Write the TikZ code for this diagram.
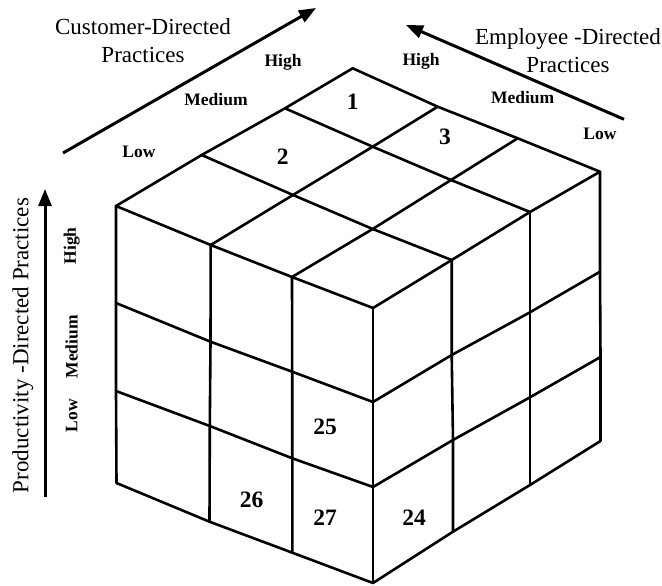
\documentclass[tikz,border=0pt]{standalone}
\usepackage{fontspec}
\setmainfont{Liberation Serif}
\usetikzlibrary{arrows.meta}
\begin{document}
\begin{tikzpicture}[x=1pt,y=-1pt,
  grid/.style={line width=2.6pt, line join=round, line cap=round},
  axis/.style={line width=3pt, -{Triangle[length=17pt,width=13pt]}},
  title/.style={font=\fontsize{23}{28}\selectfont, align=center, inner sep=0pt},
  level/.style={font=\bfseries\fontsize{17.5}{19}\selectfont, inner sep=0pt},
  cell/.style={font=\bfseries\fontsize{23.5}{25}\selectfont, inner sep=0pt}]
\useasboundingbox (0,0) rectangle (662,586);

% top face: t<i><j>, i runs towards the left corner, j towards the right corner
\coordinate (t00) at (352.7,68.3);
\coordinate (t01) at (437.7,106.7);
\coordinate (t02) at (517.7,138.3);
\coordinate (t03) at (600,171.7);
\coordinate (t10) at (285,108.3);
\coordinate (t11) at (372.7,146.7);
\coordinate (t12) at (451,180);
\coordinate (t13) at (530,212);
\coordinate (t20) at (201.7,155);
\coordinate (t21) at (293,195);
\coordinate (t22) at (372.7,229);
\coordinate (t23) at (451.7,260);
\coordinate (t30) at (116,206);
\coordinate (t31) at (210.7,245);
\coordinate (t32) at (292,277);
\coordinate (t33) at (373,308);

% left face: l<column><row>
\coordinate (l00) at (116,206);   \coordinate (l01) at (116,303);
\coordinate (l02) at (116,391);   \coordinate (l03) at (116.5,483);
\coordinate (l10) at (210.7,245); \coordinate (l11) at (210.5,341.7);
\coordinate (l12) at (209.8,426); \coordinate (l13) at (209.5,521.7);
\coordinate (l20) at (292,277);   \coordinate (l21) at (292.2,371.7);
\coordinate (l22) at (292.3,458.3); \coordinate (l23) at (292.3,552.7);
\coordinate (l30) at (373,308);   \coordinate (l31) at (373,402);
\coordinate (l32) at (373,487);   \coordinate (l33) at (373,583);

% right face: r<column><row>, column 0 is the front edge
\coordinate (r00) at (373,308);   \coordinate (r01) at (373,402);
\coordinate (r02) at (373,487);   \coordinate (r03) at (373,583);
\coordinate (r10) at (451.7,260); \coordinate (r11) at (451.7,355);
\coordinate (r12) at (453,440);   \coordinate (r13) at (453,531.7);
\coordinate (r20) at (530,212);   \coordinate (r21) at (530,312.3);
\coordinate (r22) at (530,397.3); \coordinate (r23) at (530,485);
\coordinate (r30) at (600,171.7); \coordinate (r31) at (600,271.7);
\coordinate (r32) at (600.5,357); \coordinate (r33) at (600.5,441);

% top face grid
\foreach \i in {0,...,3}{
  \draw[grid] (t\i0) -- (t\i1) -- (t\i2) -- (t\i3);
  \draw[grid] (t0\i) -- (t1\i) -- (t2\i) -- (t3\i);
}
% left face grid
\foreach \a in {0,...,3}
  \draw[grid] (l\a0) -- (l\a1) -- (l\a2) -- (l\a3);
\foreach \k in {1,...,3}
  \draw[grid] (l0\k) -- (l1\k) -- (l2\k) -- (l3\k);
% right face grid
\foreach \b in {1,...,3}
  \draw[grid] (r\b0) -- (r\b1) -- (r\b2) -- (r\b3);
\foreach \k in {1,...,3}
  \draw[grid] (r0\k) -- (r1\k) -- (r2\k) -- (r3\k);

% cell numbers
\node[cell] (c1)  at (352.7,101.7) {1};
\node[cell] (c2)  at (282.7,156.7) {2};
\node[cell] (c3)  at (445,136.7)   {3};
\node[cell] (c25) at (325,427)     {25};
\node[cell] (c26) at (251.7,500)   {26};
\node[cell] (c27) at (325,517.7)   {27};
\node[cell] (c24) at (414,517.7)   {24};

% customer-directed axis
\coordinate (cA) at (63,153);
\coordinate (cB) at (316,8);
\draw[axis] (cA) -- (cB);
\node[title] (ctitle) at (143,41) {Customer-Directed\\Practices};
\node[level] (cl) at (139,152) {Low};
\node[level] (cm) at (216,100) {Medium};
\node[level] (ch) at (283,62)  {High};

% employee-directed axis
\coordinate (eA) at (624,119.3);
\coordinate (eB) at (406,25);
\draw[axis] (eA) -- (eB);
\node[title] (etitle) at (568,51) {Employee -Directed\\Practices};
\node[level] (eh) at (421,61.7) {High};
\node[level] (em) at (522.7,98) {Medium};
\node[level] (el) at (600,134)  {Low};

% productivity-directed axis
\coordinate (pA) at (45,497);
\coordinate (pB) at (45,189);
\draw[axis] (pA) -- (pB);
\node[title, rotate=90] (ptitle) at (23,345.5) {Productivity -Directed Practices};
\node[level, rotate=90] (pl) at (71.7,415.8) {Low};
\node[level, rotate=90] (pm) at (71.7,346.7) {Medium};
\node[level, rotate=90] (ph) at (71.7,245.8) {High};
\end{tikzpicture}
\end{document}
